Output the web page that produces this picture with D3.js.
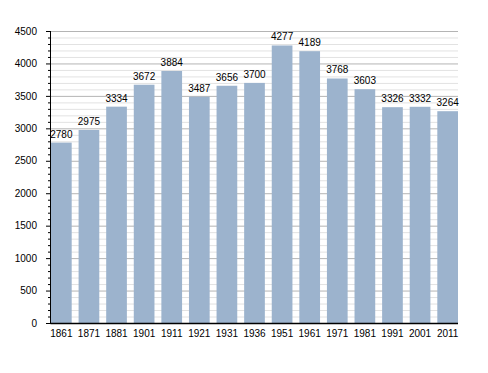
<!DOCTYPE html>
<html><head><meta charset="utf-8">
<script src="https://cdn.jsdelivr.net/npm/d3@7"></script>
<style>body{margin:0;background:#fff}svg{display:block;font-family:"Liberation Sans",Arial,sans-serif}</style>
</head><body><svg id="c" width="488" height="373"></svg>
<script>
const years = ["1861","1871","1881","1901","1911","1921","1931","1936","1951","1961","1971","1981","1991","2001","2011"];
const population = [2780,2975,3334,3672,3884,3487,3656,3700,4277,4189,3768,3603,3326,3332,3264];
const yMajorTicks = [0,500,1000,1500,2000,2500,3000,3500,4000,4500];

(function () {
const svg = d3.select("#c");
const mL = 51, mR = 458, mT = 31, mB = 323;
const x = d3.scaleBand().domain(years).range([mL, mR]).paddingInner(0.25).paddingOuter(0);
const y = d3.scaleLinear().domain([0, 4500]).range([mB, mT]);
const minor = d3.range(0, 4501, 100);

// minor gridlines
svg.append("g").selectAll("line").data(minor.filter(d => d % 500 !== 0)).join("line")
  .attr("x1", mL).attr("x2", mR).attr("y1", d => y(d) + 0.5).attr("y2", d => y(d) + 0.5)
  .attr("stroke", "#e2e2e2").attr("stroke-width", 1);
// major gridlines
svg.append("g").selectAll("line").data(yMajorTicks.filter(d => d > 0)).join("line")
  .attr("x1", mL).attr("x2", mR).attr("y1", d => y(d) + 0.5).attr("y2", d => y(d) + 0.5)
  .attr("stroke", "#b4b4b4").attr("stroke-width", 1);

// bars
svg.append("g").selectAll("rect").data(population).join("rect")
  .attr("x", (d, i) => x(years[i])).attr("width", x.bandwidth())
  .attr("y", d => y(d)).attr("height", d => y(0) - y(d))
  .attr("fill", "#9cb3cd");

// value labels
svg.append("g").selectAll("text").data(population).join("text")
  .attr("x", (d, i) => x(years[i]) + x.bandwidth() / 2)
  .attr("y", d => y(d) - 5)
  .attr("text-anchor", "middle").attr("font-size", 10).attr("fill", "#000")
  .text(d => d);

// y axis
const yAxis = d3.axisLeft(y).tickValues(yMajorTicks).tickSize(5).tickPadding(9).tickFormat(d3.format("d"));
const gy = svg.append("g").attr("transform", `translate(${mL},0)`).call(yAxis);
gy.select(".domain").remove();
gy.selectAll("text").attr("font-size", 10).attr("font-family", "Liberation Sans, Arial, sans-serif").attr("fill", "#000");
gy.selectAll("line").attr("stroke", "#000");
// minor ticks
const yMinor = d3.axisLeft(y).tickValues(minor.filter(d => d % 500 !== 0)).tickSize(3).tickFormat("");
const gm = svg.append("g").attr("transform", `translate(${mL},0)`).call(yMinor);
gm.select(".domain").remove();
gm.selectAll("line").attr("stroke", "#000");

// axis lines
svg.append("line").attr("x1", mL - 0.5).attr("x2", mL - 0.5).attr("y1", mT).attr("y2", mB + 1).attr("stroke", "#000");
svg.append("line").attr("x1", mL - 0.5).attr("x2", mR).attr("y1", mB + 0.5).attr("y2", mB + 0.5).attr("stroke", "#000").attr("stroke-width", 1.5);

// x axis labels
const xAxis = d3.axisBottom(x).tickSize(0).tickPadding(7);
const gx = svg.append("g").attr("transform", `translate(0,${mB})`).call(xAxis);
gx.select(".domain").remove();
gx.selectAll("text").attr("font-size", 10).attr("font-family", "Liberation Sans, Arial, sans-serif").attr("fill", "#000");
})();
</script></body></html>
